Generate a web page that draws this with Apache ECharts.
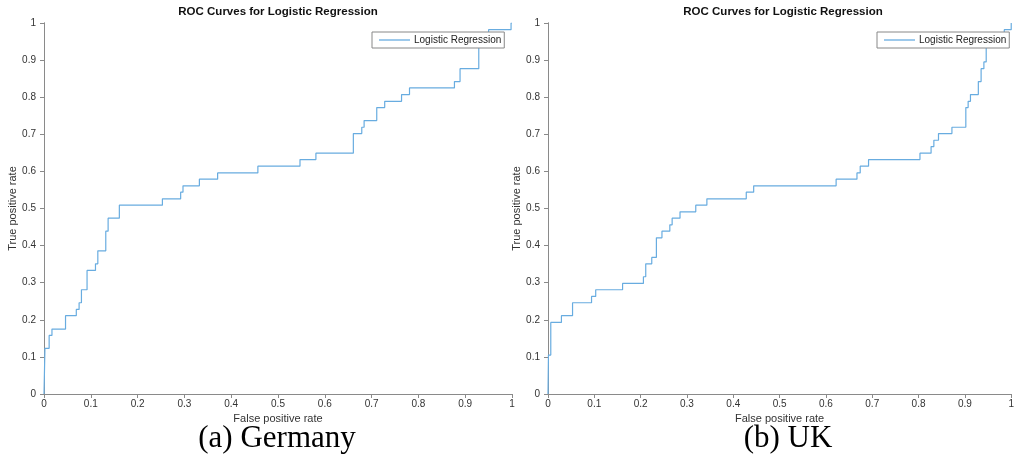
<!DOCTYPE html>
<html>
<head>
<meta charset="utf-8">
<script src="https://cdn.jsdelivr.net/npm/echarts@6/dist/echarts.min.js"></script>
<style>
  html, body { margin: 0; padding: 0; background: #fff; }
  #roc { width: 1017px; height: 464px; }
</style>
</head>
<body>
<div id="roc"></div>
<script>
  // ROC step points (value after each vertical step)
  const germanyFpr = [0, 0.002, 0.011, 0.017, 0.046, 0.069, 0.075, 0.080, 0.092, 0.110, 0.115, 0.132, 0.137, 0.161,
    0.253, 0.292, 0.297, 0.332, 0.371, 0.457, 0.547, 0.581, 0.661, 0.679, 0.684, 0.711, 0.728, 0.764, 0.781,
    0.877, 0.889, 0.929, 0.950, 0.998, 1];
  const germanyTpr = [0, 0.123, 0.158, 0.175, 0.211, 0.228, 0.246, 0.281, 0.333, 0.351, 0.386, 0.439, 0.474, 0.509,
    0.526, 0.544, 0.561, 0.579, 0.596, 0.614, 0.632, 0.649, 0.702, 0.719, 0.737, 0.772, 0.789, 0.807, 0.825,
    0.842, 0.877, 0.965, 0.982, 1, 1];

  const ukFpr = [0, 0.001, 0.006, 0.029, 0.053, 0.094, 0.103, 0.161, 0.206, 0.211, 0.224, 0.234, 0.246, 0.263, 0.268,
    0.285, 0.319, 0.343, 0.428, 0.444, 0.622, 0.667, 0.674, 0.692, 0.803, 0.827, 0.833, 0.843, 0.872,
    0.902, 0.907, 0.912, 0.929, 0.935, 0.941, 0.946, 0.985, 1];
  const ukTpr = [0, 0.105, 0.193, 0.211, 0.246, 0.263, 0.281, 0.298, 0.316, 0.351, 0.368, 0.421, 0.439, 0.456, 0.474,
    0.491, 0.509, 0.526, 0.544, 0.561, 0.579, 0.596, 0.614, 0.632, 0.649, 0.667, 0.684, 0.702, 0.719,
    0.772, 0.789, 0.807, 0.842, 0.877, 0.895, 0.965, 0.982, 1];

  const chartTitle = 'ROC Curves for Logistic Regression';
  const seriesName = 'Logistic Regression';
  const captions = ['(a) Germany', '(b) UK'];

  const lineColor = '#68ace0';
  const axisColor = '#8a8a8a';
  const labelColor = '#333';
  const sans = 'Liberation Sans, Arial, sans-serif';
  const serif = 'Liberation Serif, Times New Roman, serif';

  const toPairs = (xs, ys) => xs.map((x, i) => [x, ys[i]]);

  // main (labelled) axis + mirrored axis with only inward ticks, like a boxed plot
  const makeX = (grid, mirror) => ({
    type: 'value', gridIndex: grid, min: 0, max: 1, interval: 0.1,
    position: mirror ? 'top' : 'bottom',
    name: mirror ? '' : 'False positive rate',
    nameLocation: 'middle', nameGap: 16,
    nameTextStyle: { fontFamily: sans, fontSize: 11, color: labelColor },
    axisLine: { show: true, lineStyle: { color: axisColor, width: 1 } },
    axisTick: { show: true, inside: mirror, length: 4, lineStyle: { color: axisColor } },
    axisLabel: { show: !mirror, fontFamily: sans, fontSize: 10, color: labelColor, margin: 5 },
    splitLine: { show: false }
  });
  const makeY = (grid, mirror) => ({
    type: 'value', gridIndex: grid, min: 0, max: 1, interval: 0.1,
    position: mirror ? 'right' : 'left',
    name: mirror ? '' : 'True positive rate',
    nameLocation: 'middle', nameGap: 24,
    nameTextStyle: { fontFamily: sans, fontSize: 11, color: labelColor },
    axisLine: { show: true, lineStyle: { color: axisColor, width: 1 } },
    axisTick: { show: true, inside: mirror, length: 4, lineStyle: { color: axisColor } },
    axisLabel: { show: !mirror, fontFamily: sans, fontSize: 10, color: labelColor, margin: 8 },
    splitLine: { show: false }
  });

  const makeLegend = (left) => ({
    left: left, top: 32, z: 20,
    data: [seriesName],
    icon: 'rect',
    itemWidth: 31, itemHeight: 1.3, itemGap: 4,
    padding: [3, 3, 3, 7],
    backgroundColor: '#fff',
    borderColor: '#888', borderWidth: 1,
    selectedMode: false,
    textStyle: { fontFamily: sans, fontSize: 10, color: '#222', padding: [0, 0, 0, -1] }
  });

  const makeSeries = (grid, pairs) => ({
    name: seriesName, type: 'line', step: 'end',
    xAxisIndex: grid * 2, yAxisIndex: grid * 2,
    symbol: 'none', data: pairs,
    lineStyle: { color: lineColor, width: 1.2 },
    itemStyle: { color: lineColor },
    animation: false, z: 3
  });

  const chart = echarts.init(document.getElementById('roc'), null, { renderer: 'canvas' });
  chart.setOption({
    backgroundColor: '#fff',
    animation: false,
    grid: [
      { left: 44, top: 23, width: 468, height: 371 },
      { left: 548, top: 23, width: 468, height: 371 }
    ],
    xAxis: [makeX(0, false), makeX(0, true), makeX(1, false), makeX(1, true)],
    yAxis: [makeY(0, false), makeY(0, true), makeY(1, false), makeY(1, true)],
    legend: [makeLegend(372), makeLegend(877)],
    series: [
      makeSeries(0, toPairs(germanyFpr, germanyTpr)),
      makeSeries(1, toPairs(ukFpr, ukTpr))
    ],
    graphic: [
      { type: 'text', x: 278, y: 12, style: { text: chartTitle, fontFamily: sans, fontWeight: 'bold', fontSize: 11.5, fill: '#111', textAlign: 'center', textVerticalAlign: 'middle' } },
      { type: 'text', x: 783, y: 12, style: { text: chartTitle, fontFamily: sans, fontWeight: 'bold', fontSize: 11.5, fill: '#111', textAlign: 'center', textVerticalAlign: 'middle' } },
      { type: 'text', x: 277, y: 439, style: { text: captions[0], fontFamily: serif, fontSize: 31, fill: '#000', textAlign: 'center', textVerticalAlign: 'middle' } },
      { type: 'text', x: 788, y: 439, style: { text: captions[1], fontFamily: serif, fontSize: 31, fill: '#000', textAlign: 'center', textVerticalAlign: 'middle' } }
    ]
  });
</script>
</body>
</html>
